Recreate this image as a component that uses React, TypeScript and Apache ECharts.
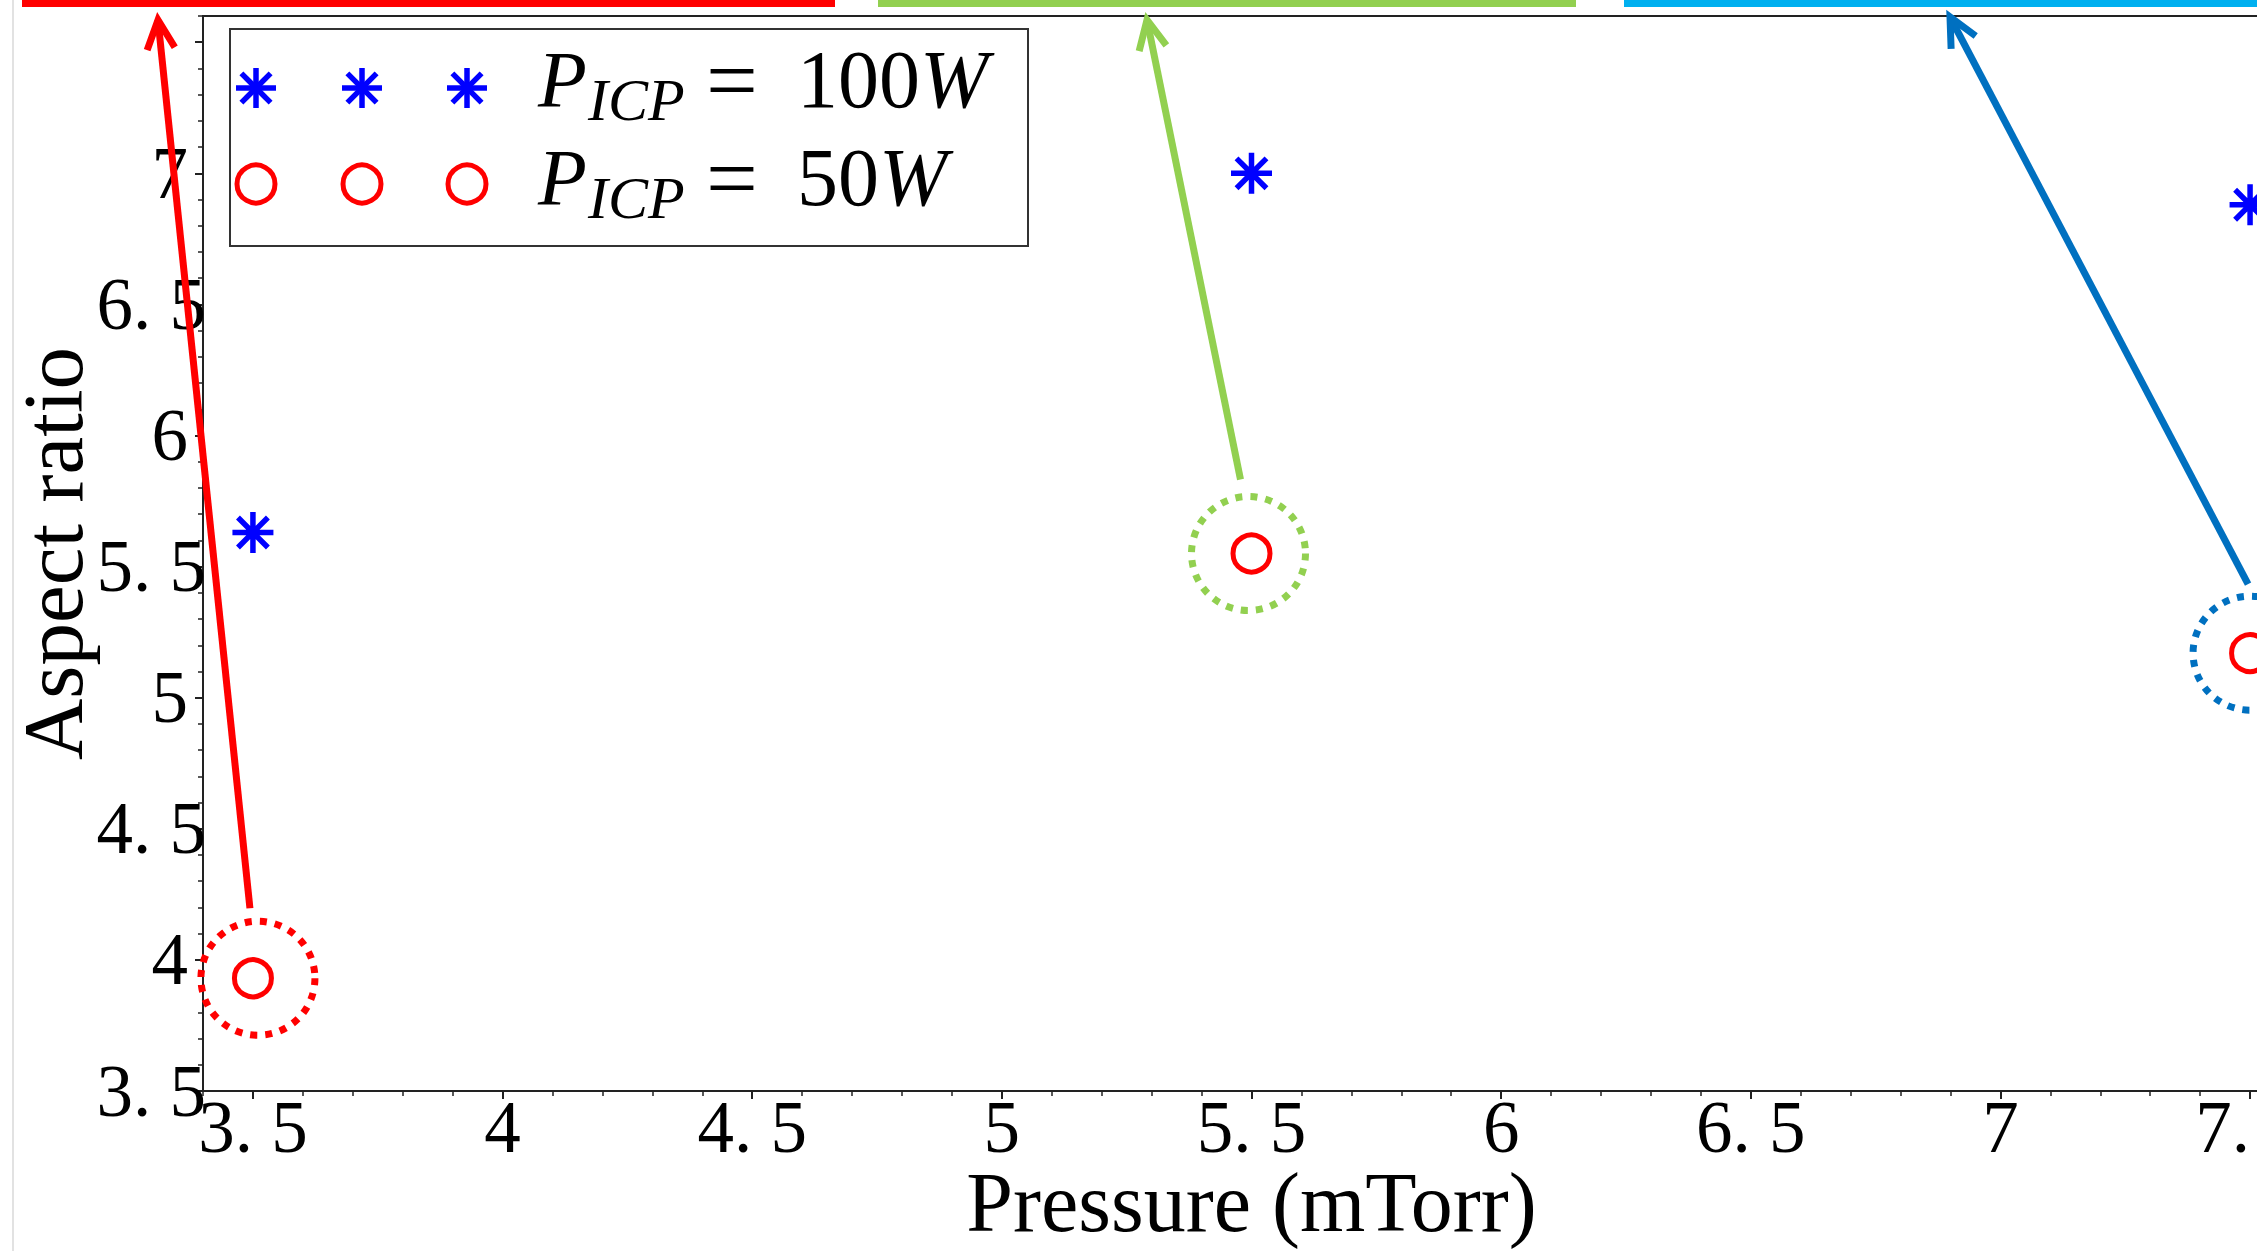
import React, { useEffect, useRef } from "react";
import * as echarts from "echarts";

// ---- data ----
const pressure = [3.5, 5.5, 7.5];
const ratio100W = [5.63, 7.0, 6.88];
const ratio50W = [3.93, 5.55, 5.17];
const xTickLabels = [3.5, 4, 4.5, 5, 5.5, 6, 6.5, 7, 7.5];
const yTickLabels = [3.5, 4, 4.5, 5, 5.5, 6, 6.5, 7];
const yTickMarks = [3.5, 4, 4.5, 5, 5.5, 6, 6.5, 7, 7.5];
const xExtent = [3.4, 7.6];
const yExtent = [3.5, 7.6];
const legendPowers = ["100", "50"];
const calloutColors = ["#ff0000", "#92d050", "#0070c0"];
const bannerColors = ["#ff0000", "#92d050", "#00b0f0"];

const FONT = "'Liberation Serif', 'Times New Roman', serif";
const ASTERISK =
  "path://M0,-10L0,10M-10,0L10,0M-7.3,-7.3L7.3,7.3M-7.3,7.3L7.3,-7.3";
const STAR_BLUE = "#0000ff";
const CIRCLE_RED = "#ff0000";

const fmt = (v: number) => String(v).replace(".", ". ");

function buildGraphics(chart: echarts.ECharts) {
  const els: any[] = [];
  // faint page edge line
  els.push({
    type: "line",
    z: 100,
    silent: true,
    shape: { x1: 13, y1: 0, x2: 13, y2: 1251 },
    style: { stroke: "#e2e2e2", lineWidth: 2 },
  });
  // top colour banners
  const banners = [
    [22, 813],
    [878, 698],
    [1624, 800],
  ];
  banners.forEach(([x, w], i) =>
    els.push({
      type: "rect",
      z: 100,
      shape: { x, y: 0, width: w, height: 7 },
      style: { fill: bannerColors[i] },
    })
  );

  // legend box
  els.push({
    type: "rect",
    z: 100,
    shape: { x: 230, y: 29, width: 798, height: 217 },
    style: { fill: "#ffffff", stroke: "#333333", lineWidth: 2 },
  });
  const markerXs = [256, 362, 467];
  const rowY = [88, 184];
  markerXs.forEach((cx) => {
    const cy = rowY[0];
    const R = 20;
    const d = R * 0.73;
    [
      [0, -R, 0, R],
      [-R, 0, R, 0],
      [-d, -d, d, d],
      [-d, d, d, -d],
    ].forEach(([a, b, c, e]) =>
      els.push({
        type: "line",
        z: 101,
        shape: { x1: cx + a, y1: cy + b, x2: cx + c, y2: cy + e },
        style: { stroke: STAR_BLUE, lineWidth: 5.5 },
      })
    );
    els.push({
      type: "circle",
      z: 101,
      shape: { cx, cy: rowY[1], r: 19 },
      style: { fill: "none", stroke: CIRCLE_RED, lineWidth: 5 },
    });
  });
  const baselines = [107, 205];
  legendPowers.forEach((pw, i) => {
    const b = baselines[i];
    els.push({
      type: "text",
      z: 101,
      x: 538,
      y: b - 27,
      style: {
        text: "P",
        font: `italic 80px ${FONT}`,
        fill: "#000",
        align: "left",
        verticalAlign: "middle",
      },
    });
    els.push({
      type: "text",
      z: 101,
      x: 588,
      y: b + 13 - 20,
      style: {
        text: "ICP",
        font: `italic 60px ${FONT}`,
        fill: "#000",
        align: "left",
        verticalAlign: "middle",
      },
    });
    els.push({
      type: "text",
      z: 101,
      x: 706,
      y: b - 27,
      style: {
        text: "=",
        font: `92px ${FONT}`,
        fill: "#000",
        align: "left",
        verticalAlign: "middle",
      },
    });
    els.push({
      type: "text",
      z: 101,
      x: 797,
      y: b - 28,
      style: {
        text: pw,
        font: `82px ${FONT}`,
        fill: "#000",
        align: "left",
        verticalAlign: "middle",
      },
    });
    els.push({
      type: "text",
      z: 101,
      x: 797 + pw.length * 41,
      y: b - 28,
      style: {
        text: "W",
        font: `italic 82px ${FONT}`,
        fill: "#000",
        align: "left",
        verticalAlign: "middle",
      },
    });
  });

  // callouts: dotted rings around the 50W points and arrows to the banners
  const tips = [
    [158, 20],
    [1147, 20],
    [1950, 17],
  ];
  const starts = [
    [-3, -70],
    [-11, -74],
    [-2, -69],
  ];
  const ringOffset = [
    [5, 0],
    [-3, 0],
    [0, 0],
  ];
  pressure.forEach((x, i) => {
    const p = chart.convertToPixel({ seriesIndex: 1 }, [x, ratio50W[i]]) as number[];
    const px = p[0];
    const py = p[1];
    const stroke = calloutColors[i];
    els.push({
      type: "circle",
      z: 100,
      shape: { cx: px + ringOffset[i][0], cy: py + ringOffset[i][1], r: 57 },
      style: { fill: "none", stroke, lineWidth: 7, lineDash: [7, 8] },
    });
    const sx = px + starts[i][0];
    const sy = py + starts[i][1];
    const [tx, ty] = tips[i];
    els.push({
      type: "line",
      z: 102,
      shape: { x1: sx, y1: sy, x2: tx, y2: ty },
      style: { stroke, lineWidth: 7 },
    });
    const ang = Math.atan2(sy - ty, sx - tx);
    const L = 32;
    const th = Math.PI / 7;
    els.push({
      type: "polyline",
      z: 102,
      shape: {
        points: [
          [tx + L * Math.cos(ang + th), ty + L * Math.sin(ang + th)],
          [tx, ty],
          [tx + L * Math.cos(ang - th), ty + L * Math.sin(ang - th)],
        ],
      },
      style: { stroke, lineWidth: 7, fill: "none" },
    });
  });
  return els;
}

export default function App() {
  const ref = useRef<HTMLDivElement>(null);

  useEffect(() => {
    if (!ref.current) return;
    const chart = echarts.init(ref.current, null, { renderer: "svg" });

    const tickLabelStyle = { fontFamily: FONT, fontSize: 73, color: "#000" };

    chart.setOption({
      animation: false,
      backgroundColor: "#ffffff",
      grid: {
        left: 203,
        top: 16,
        width: 2097,
        height: 1075,
        show: true,
        borderColor: "#222",
        borderWidth: 2,
        backgroundColor: "transparent",
        containLabel: false,
        outerBoundsMode: "none",
      },
      xAxis: [
        {
          type: "value",
          min: xExtent[0],
          max: xExtent[1],
          position: "bottom",
          name: "Pressure (mTorr)",
          nameLocation: "middle",
          nameGap: 72,
          nameMoveOverlap: false,
          nameTextStyle: {
            fontFamily: FONT,
            fontSize: 84,
            lineHeight: 78,
            color: "#000",
          },
          axisLine: { show: true, lineStyle: { color: "#222", width: 2 } },
          axisTick: {
            show: true,
            inside: false,
            length: 8,
            customValues: xTickLabels,
            lineStyle: { color: "#222", width: 2 },
          },
          axisLabel: {
            show: true,
            margin: 3,
            customValues: xTickLabels,
            formatter: (v: number) => fmt(v),
            lineHeight: 66,
            ...tickLabelStyle,
          },
          splitLine: { show: false },
        },
        {
          type: "value",
          min: xExtent[0],
          max: xExtent[1],
          interval: 0.1,
          position: "bottom",
          axisLine: { show: false },
          axisTick: {
            show: true,
            inside: false,
            length: 5,
            lineStyle: { color: "#222", width: 1.5 },
          },
          axisLabel: { show: false },
          splitLine: { show: false },
        },
      ],
      yAxis: [
        {
          type: "value",
          min: yExtent[0],
          max: yExtent[1],
          position: "left",
          name: "Aspect ratio",
          nameLocation: "middle",
          nameGap: 108,
          nameMoveOverlap: false,
          nameTextStyle: {
            fontFamily: FONT,
            fontSize: 85,
            lineHeight: 85,
            color: "#000",
          },
          axisLine: { show: true, lineStyle: { color: "#222", width: 2 } },
          axisTick: {
            show: true,
            inside: false,
            length: 8,
            customValues: yTickMarks,
            lineStyle: { color: "#222", width: 2 },
          },
          axisLabel: {
            show: true,
            margin: -3,
            customValues: yTickLabels,
            formatter: (v: number) =>
              Number.isInteger(v) ? `{i|${fmt(v)}}` : `{d|${fmt(v)}}`,
            rich: {
              i: { ...tickLabelStyle, padding: [0, 18, 0, 0] },
              d: { ...tickLabelStyle },
            },
            ...tickLabelStyle,
          },
          splitLine: { show: false },
        },
        {
          type: "value",
          min: yExtent[0],
          max: yExtent[1],
          interval: 0.1,
          position: "left",
          axisLine: { show: false },
          axisTick: {
            show: true,
            inside: false,
            length: 5,
            lineStyle: { color: "#222", width: 1.5 },
          },
          axisLabel: { show: false },
          splitLine: { show: false },
        },
      ],
      series: [
        {
          type: "scatter",
          name: "P_ICP = 100W",
          xAxisIndex: 0,
          yAxisIndex: 0,
          data: pressure.map((x, i) => [x, ratio100W[i]]),
          symbol: ASTERISK,
          symbolSize: 41,
          symbolKeepAspect: true,
          itemStyle: {
            color: "rgba(0,0,0,0)",
            borderColor: STAR_BLUE,
            borderWidth: 5.5,
            opacity: 1,
          },
          z: 5,
        },
        {
          type: "scatter",
          name: "P_ICP = 50W",
          xAxisIndex: 0,
          yAxisIndex: 0,
          data: pressure.map((x, i) => [x, ratio50W[i]]),
          symbol: "circle",
          symbolSize: 37,
          itemStyle: {
            color: "rgba(0,0,0,0)",
            borderColor: CIRCLE_RED,
            borderWidth: 5,
            opacity: 1,
          },
          z: 5,
        },
      ],
    });

    chart.setOption({ graphic: { elements: buildGraphics(chart) } });

    return () => chart.dispose();
  }, []);

  return (
    <div
      style={{
        position: "fixed",
        left: 0,
        top: 0,
        width: "100vw",
        height: "100vh",
        overflow: "hidden",
        background: "#fff",
      }}
    >
      <div ref={ref} style={{ width: 2400, height: 1251 }} />
    </div>
  );
}
